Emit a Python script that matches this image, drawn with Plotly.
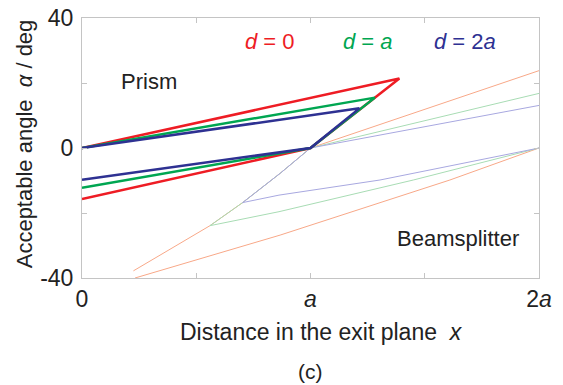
import plotly.graph_objects as go

# Data (x in units of a, y in degrees)
# Prism (thick lines)
prism_red_x = [0, 1.389, 1.0, 0]
prism_red_y = [0, 21.4, 0, -15.7]
prism_green_x = [0, 1.282, 1.0, 0]
prism_green_y = [0, 15.5, 0, -12.2]
prism_blue_x = [0, 1.214, 1.0, 0]
prism_blue_y = [0, 12.2, 0, -9.8]

# Beamsplitter (thin lines)
bs_up_x = [1.0, 2.0]
bs_red_up_y = [0, 23.8]
bs_green_up_y = [0, 16.8]
bs_blue_up_y = [0, 13.1]

bs_red_steep_x = [1.0, 0.867, 0.703, 0.560, 0.225]
bs_red_steep_y = [0, -7.8, -16.8, -23.9, -37.8]
bs_red_low_x = [0.232, 0.867, 1.61, 2.0]
bs_red_low_y = [-40.0, -26.8, -9.85, 0]

bs_green_x = [1.0, 0.867, 0.703, 0.560, 0.862, 1.45, 2.0]
bs_green_y = [0, -7.8, -16.8, -23.9, -19.6, -9.85, 0]

bs_blue_x = [1.0, 0.867, 0.703, 0.862, 1.304, 2.0]
bs_blue_y = [0, -7.8, -16.8, -14.5, -9.85, 0]

x_tickvals = [0, 0.5, 1, 1.5, 2]
x_ticktext = ["0", "", "<i>a</i>", "", "2<i>a</i>"]
y_tickvals = [-40, -20, 0, 20, 40]
y_ticktext = ["-40", "", "0", "", "40"]

RED, GREEN, BLUE = "#ee1c24", "#00a651", "#2e3192"
LRED, LGREEN, LBLUE = "#f8a888", "#a8dcb4", "#a8a8e0"

fig = go.Figure()

def add(x, y, color, width):
    fig.add_trace(go.Scatter(x=x, y=y, mode="lines",
                             line=dict(color=color, width=width),
                             showlegend=False, hoverinfo="skip"))

# thin beamsplitter lines
add(bs_up_x, bs_red_up_y, LRED, 1)
add(bs_up_x, bs_green_up_y, LGREEN, 1)
add(bs_up_x, bs_blue_up_y, LBLUE, 1)
add(bs_red_steep_x, bs_red_steep_y, LRED, 1)
add(bs_red_low_x, bs_red_low_y, LRED, 1)
add(bs_green_x, bs_green_y, LGREEN, 1)
add(bs_blue_x, bs_blue_y, LBLUE, 1)

# thick prism lines
add(prism_red_x, prism_red_y, RED, 2.5)
add(prism_green_x, prism_green_y, GREEN, 2.5)
add(prism_blue_x, prism_blue_y, BLUE, 2.5)

FONT = "Liberation Sans, Arial, Helvetica, sans-serif"
AX = "#c4c4c4"

axis_common = dict(showgrid=False, zeroline=False, showline=True, linecolor=AX,
                   linewidth=1, mirror="ticks", ticks="inside", ticklen=5,
                   tickcolor=AX, ticklabeloverflow="allow", automargin=False,
                   tickfont=dict(family=FONT, size=23, color="#222"))

fig.update_layout(
    width=563, height=385,
    margin=dict(l=82, r=24, t=18, b=107, autoexpand=False),
    paper_bgcolor="white", plot_bgcolor="white",
    font=dict(family=FONT, color="#222"),
    xaxis=dict(range=[0, 2], tickmode="array", tickvals=x_tickvals,
               ticktext=x_ticktext, **axis_common),
    yaxis=dict(range=[-40, 40], tickmode="array", tickvals=y_tickvals,
               ticktext=y_ticktext, ticklabelstandoff=3, **axis_common),
)

ann = [
    dict(x=0.823, y=32.7, text="<i>d</i> = 0", color=RED, size=22, xref="x", yref="y"),
    dict(x=1.252, y=32.7, text="<i>d</i> = <i>a</i>", color=GREEN, size=22, xref="x", yref="y"),
    dict(x=1.676, y=32.7, text="<i>d</i> = 2<i>a</i>", color=BLUE, size=22, xref="x", yref="y"),
    dict(x=0.295, y=20.4, text="Prism", color="#222", size=22, xref="x", yref="y"),
    dict(x=1.647, y=-27.8, text="Beamsplitter", color="#222", size=22, xref="x", yref="y"),
    dict(x=0.525, y=-0.2065, text="Distance in the exit plane  <i>x</i>", color="#222", size=23, xref="paper", yref="paper"),
    dict(x=0.5, y=-0.36, text="(c)", color="#222", size=21, xref="paper", yref="paper"),
]
for a in ann:
    fig.add_annotation(x=a["x"], y=a["y"], xref=a["xref"], yref=a["yref"],
                       text=a["text"], showarrow=False,
                       font=dict(family=FONT, size=a["size"], color=a["color"]),
                       xanchor="center", yanchor="middle")

fig.add_annotation(x=-0.127, y=0.518, xref="paper", yref="paper",
                   text="Acceptable angle  <i>α</i> / deg", showarrow=False,
                   textangle=-90, font=dict(family=FONT, size=22, color="#222"),
                   xanchor="center", yanchor="middle")

fig.write_html("out.html", config={"displayModeBar": False},
               post_script="document.body.style.margin='0';")
